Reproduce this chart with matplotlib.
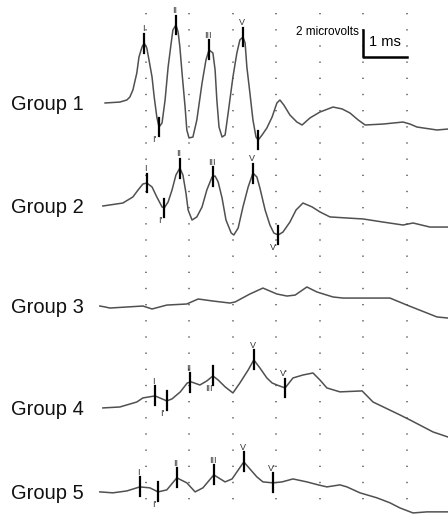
import numpy as np
import matplotlib.pyplot as plt

plt.rcParams['font.family'] = ['Liberation Sans', 'DejaVu Sans']

group_names = ["Group 1", "Group 2", "Group 3", "Group 4", "Group 5"]
baselines = [-7.63, -15.26, -22.67, -30.22, -36.44]   # microvolts, vertical offset of each trace

# time (ms) and amplitude (microvolts)
g1_t = [0.07, 0.41, 0.57, 0.64, 0.71, 0.80, 0.85, 0.92, 0.97, 1.03, 1.08, 1.15, 1.20, 1.26,
        1.31, 1.38, 1.45, 1.52, 1.59, 1.63, 1.70, 1.75, 1.79, 1.84, 1.91, 1.95, 2.00, 2.09,
        2.18, 2.30, 2.39, 2.46, 2.55, 2.60, 2.64, 2.69, 2.76, 2.83, 2.90, 3.01, 3.10, 3.17,
        3.24, 3.29, 3.33, 3.40, 3.47, 3.54, 3.59, 3.68, 3.79, 3.91, 4.02, 4.09, 4.18, 4.32,
        4.48, 4.60, 4.78, 5.01, 5.31, 5.52, 5.70, 5.89, 6.05, 6.46, 6.92, 7.08, 7.24, 7.70, 7.95]
g1_v = [0.0, 0.07, 0.22, 0.44, 0.96, 2.22, 3.41, 4.15, 4.44, 4.07, 3.19, 1.93, 0.44, -1.04,
        -1.78, -1.48, 0.22, 2.67, 4.44, 5.41, 5.78, 5.26, 4.15, 2.22, -0.30, -2.00, -2.59, -2.52,
        -1.26, 1.48, 3.19, 3.93, 3.70, 2.44, 0.22, -1.78, -2.52, -2.37, -0.74, 1.93, 3.70, 4.67,
        4.89, 4.44, 2.67, 0.74, -1.26, -2.52, -2.74, -2.37, -1.85, -1.04, 0.0, 0.22, -0.15, -0.89,
        -1.41, -1.63, -1.11, -0.67, -0.30, -0.44, -0.74, -1.26, -1.63, -1.56, -1.41, -1.56, -1.78,
        -2.00, -1.93]

g2_t = [0.02, 0.48, 0.71, 0.83, 0.94, 1.03, 1.15, 1.26, 1.38, 1.43, 1.52, 1.61, 1.70, 1.79,
        1.86, 1.93, 1.98, 2.07, 2.18, 2.30, 2.41, 2.53, 2.60, 2.67, 2.76, 2.85, 2.97, 3.03,
        3.13, 3.24, 3.36, 3.47, 3.56, 3.63, 3.75, 3.86, 3.95, 4.05, 4.16, 4.32, 4.46, 4.62,
        4.83, 5.01, 5.24, 5.63, 6.00, 6.46, 6.92, 7.15, 7.54, 7.95]
g2_v = [0.0, 0.22, 0.67, 1.19, 1.63, 1.70, 1.41, 0.67, -0.07, -0.15, 0.30, 1.19, 2.30, 2.81,
        2.30, 0.96, -0.30, -1.04, -0.81, -0.07, 1.19, 2.15, 2.22, 1.78, 0.59, -1.04, -2.00, -2.15,
        -1.63, -0.07, 1.41, 2.44, 2.15, 1.33, -0.30, -1.41, -2.00, -2.15, -1.93, -1.19, -0.30, 0.22,
        -0.07, -0.44, -0.81, -0.89, -0.96, -1.19, -1.41, -1.26, -1.56, -1.56]

g3_t = [-0.05, 0.07, 0.18, 0.94, 1.15, 1.49, 1.95, 2.21, 2.55, 2.94, 3.06, 3.40, 3.70, 4.02,
        4.25, 4.44, 4.71, 4.94, 5.31, 5.54, 6.62, 7.01, 7.70, 7.95]
g3_v = [0.0, -0.07, -0.15, 0.0, -0.22, 0.07, 0.15, 0.52, 0.37, 0.22, 0.30, 0.89, 1.33, 0.89,
        0.74, 0.81, 1.41, 1.04, 0.67, 0.59, 0.59, 0.07, -0.81, -0.89]

g4_t = [0.02, 0.41, 0.80, 0.94, 1.22, 1.49, 1.61, 1.80, 1.96, 2.05, 2.25, 2.41, 2.55, 2.67,
        2.83, 3.01, 3.17, 3.36, 3.49, 3.63, 3.79, 3.91, 4.02, 4.21, 4.39, 4.62, 4.85, 5.01,
        5.17, 5.47, 5.98, 6.23, 6.85, 7.08, 7.61, 7.95]
g4_v = [0.0, 0.07, 0.44, 0.74, 0.89, 0.52, 0.67, 1.19, 1.85, 1.93, 1.70, 2.00, 2.37, 2.07,
        1.56, 1.11, 1.85, 2.81, 3.56, 2.96, 2.22, 1.85, 1.70, 1.48, 2.22, 2.44, 2.59, 2.07,
        1.48, 1.19, 1.26, 0.44, -0.52, -0.89, -1.78, -2.15]

g5_t = [-0.05, 0.25, 0.57, 0.87, 1.10, 1.29, 1.49, 1.72, 1.95, 2.14, 2.32, 2.57, 2.83, 2.99,
        3.26, 3.56, 3.70, 3.93, 4.14, 4.39, 4.71, 4.97, 5.17, 5.47, 5.63, 5.93, 6.32, 6.62,
        6.85, 7.15, 7.47, 7.95]
g5_v = [0.0, -0.07, 0.07, 0.37, 0.30, 0.0, 0.15, 1.04, 0.67, 0.0, 0.30, 1.26, 0.74, 0.96,
        2.22, 1.11, 0.74, 0.67, 0.74, 0.96, 0.74, 0.52, 0.37, 0.52, 0.37, -0.07, -0.44, -0.81,
        -1.19, -1.56, -1.48, -1.48]

# wave markers: (label, latency ms, label side)
g1_marks = [("I", 0.97, "up"), ("I'", 1.31, "down"), ("II", 1.70, "up"), ("III", 2.46, "up"),
            ("V", 3.24, "up"), ("", 3.59, "down")]
g2_marks = [("I", 1.03, "up"), ("I'", 1.43, "down"), ("II", 1.79, "up"), ("III", 2.55, "up"),
            ("V", 3.47, "up"), ("V'", 4.05, "down")]
g3_marks = []
g4_marks = [("I", 1.22, "up"), ("I'", 1.49, "down"), ("II", 2.02, "up"), ("III", 2.55, "down"),
            ("V", 3.49, "up"), ("V'", 4.21, "up")]
g5_marks = [("I", 0.87, "up"), ("I'", 1.29, "down"), ("II", 1.72, "up"), ("III", 2.57, "up"),
            ("V", 3.26, "up"), ("V'", 3.93, "up")]

grid_ms = [1, 2, 3, 4, 5, 6, 7]


def draw_trace(ax, t, v, base, marks):
    t = np.array(t)
    v = np.array(v) + base
    ax.plot(t, v, color="#505050", lw=1.1, solid_joinstyle="round")
    for name, lat, side in marks:
        y = np.interp(lat, t, v)
        ax.plot([lat, lat], [y - 0.7, y + 0.7], color="black", lw=1.6)
        if not name:
            continue
        if side == "up":
            ax.text(lat - 0.03, y + 1.05, name, fontsize=6.5, color="#333333",
                    ha="center", va="center")
        else:
            ax.text(lat - 0.1, y - 0.95, name, fontsize=6.5, color="#333333",
                    ha="center", va="center")


fig = plt.figure(figsize=(4.48, 5.17), dpi=100)
ax = fig.add_axes([0, 0, 1, 1])
ax.set_xlim(-2.345, 7.954)
ax.set_ylim(-38.3, 0)
ax.axis("off")

for ms in grid_ms:
    ax.plot([ms, ms], [-1.0, -37.6], color="#666666", lw=1.2, linestyle=(0, (0.8, 8.9)))

traces = [(g1_t, g1_v, g1_marks), (g2_t, g2_v, g2_marks), (g3_t, g3_v, g3_marks),
          (g4_t, g4_v, g4_marks), (g5_t, g5_v, g5_marks)]
for (t, v, marks), base, name in zip(traces, baselines, group_names):
    draw_trace(ax, t, v, base, marks)
    ax.text(-2.1, base - 0.1, name, fontsize=14.5, ha="left", va="center", color="#111111")

# scale bar: 2 microvolts, 1 ms
ax.plot([6, 6, 7], [-2.22, -4.22, -4.22], color="black", lw=1.8)
ax.text(5.9, -2.4, "2 microvolts", fontsize=8.5, ha="right", va="center")
ax.text(6.5, -3.1, "1 ms", fontsize=10.5, ha="center", va="center")

fig.savefig("out.png", dpi=100)
